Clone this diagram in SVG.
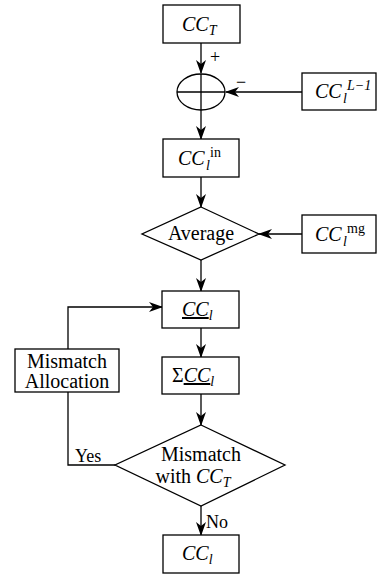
<svg xmlns="http://www.w3.org/2000/svg" width="378" height="576" viewBox="0 0 378 576" font-family="'Liberation Serif', 'DejaVu Serif', serif">
<defs>
<style>
.n{fill:#fff;stroke:#000;stroke-width:1.3}
.c{fill:none;stroke:#000;stroke-width:1.3}
text{font-family:'Liberation Serif','DejaVu Serif',serif;font-size:20px;fill:#000}
.i{font-style:italic}
.s{font-size:14px}
.lb{font-size:18px}
</style>
<marker id="ah" markerWidth="14" markerHeight="10" refX="13" refY="5" orient="auto" markerUnits="userSpaceOnUse">
<path d="M0,0 L14,5 L0,10 L4,5 Z" fill="#000"/>
</marker>
</defs>
<rect width="378" height="576" fill="#fff"/>
<g id="connectors">
<line class="c" x1="201" y1="43" x2="201" y2="73" marker-end="url(#ah)"/>
<line class="c" x1="201" y1="110" x2="201" y2="139" marker-end="url(#ah)"/>
<line class="c" x1="302" y1="92" x2="226" y2="92" marker-end="url(#ah)"/>
<line class="c" x1="201" y1="177" x2="201" y2="207" marker-end="url(#ah)"/>
<line class="c" x1="302" y1="234" x2="259" y2="234" marker-end="url(#ah)"/>
<line class="c" x1="201" y1="260" x2="201" y2="291" marker-end="url(#ah)"/>
<line class="c" x1="201" y1="328" x2="201" y2="357" marker-end="url(#ah)"/>
<line class="c" x1="201" y1="394" x2="201" y2="425" marker-end="url(#ah)"/>
<polyline class="c" points="115,465 68,465 68,392"/>
<polyline class="c" points="68,349 68,307 162,307" marker-end="url(#ah)"/>
<line class="c" x1="201" y1="506" x2="201" y2="535" marker-end="url(#ah)"/>
<text x="210" y="63" class="lb">+</text>
<text x="236" y="88" class="lb">−</text>
<text x="75" y="462" class="lb">Yes</text>
<text x="206" y="528" class="lb">No</text>
</g>
<g id="cct">
<rect class="n" x="163" y="5" width="77" height="38"/>
<text x="182" y="31"><tspan class="i">CC</tspan><tspan class="i s" dy="4">T</tspan></text>
</g>
<g id="sum">
<ellipse class="n" cx="201" cy="92" rx="24" ry="18"/>
<line class="c" x1="177" y1="92" x2="225" y2="92"/>
<line class="c" x1="201" y1="74" x2="201" y2="110"/>
</g>
<g id="ccprev">
<rect class="n" x="302" y="73" width="74" height="37"/>
<text x="315" y="98" class="i">CC</text>
<text x="343" y="103" class="i s">l</text>
<text x="347" y="90" class="i s">L−1</text>
</g>
<g id="ccin">
<rect class="n" x="163" y="139" width="76" height="38"/>
<text x="178" y="165" class="i">CC</text>
<text x="206" y="170" class="i s">l</text>
<text x="210" y="157" class="s">in</text>
</g>
<g id="average">
<polygon class="n" points="201,207 259,234 201,260 142,234"/>
<text x="201" y="240" text-anchor="middle">Average</text>
</g>
<g id="ccmg">
<rect class="n" x="302" y="215" width="74" height="38"/>
<text x="315" y="241" class="i">CC</text>
<text x="343" y="246" class="i s">l</text>
<text x="347" y="233" class="s">mg</text>
</g>
<g id="ccl">
<rect class="n" x="162" y="291" width="77" height="37"/>
<text x="182" y="316"><tspan class="i" text-decoration="underline">CC</tspan><tspan class="i s" dy="4">l</tspan></text>
</g>
<g id="sumccl">
<rect class="n" x="162" y="357" width="77" height="37"/>
<text x="172" y="382"><tspan>Σ</tspan><tspan class="i" text-decoration="underline">CC</tspan><tspan class="i s" dy="4">l</tspan></text>
</g>
<g id="alloc">
<rect class="n" x="15" y="349" width="104" height="43"/>
<text x="67" y="368" text-anchor="middle">Mismatch</text>
<text x="67" y="388" text-anchor="middle">Allocation</text>
</g>
<g id="mismatch">
<polygon class="n" points="201,425 285,465 201,506 115,465"/>
<text x="201" y="461" text-anchor="middle">Mismatch</text>
<text x="193" y="483" text-anchor="middle">with <tspan class="i">CC</tspan><tspan class="i s" dy="4">T</tspan></text>
</g>
<g id="ccfinal">
<rect class="n" x="163" y="535" width="76" height="38"/>
<text x="182" y="560"><tspan class="i">CC</tspan><tspan class="i s" dy="4">l</tspan></text>
</g>
</svg>
